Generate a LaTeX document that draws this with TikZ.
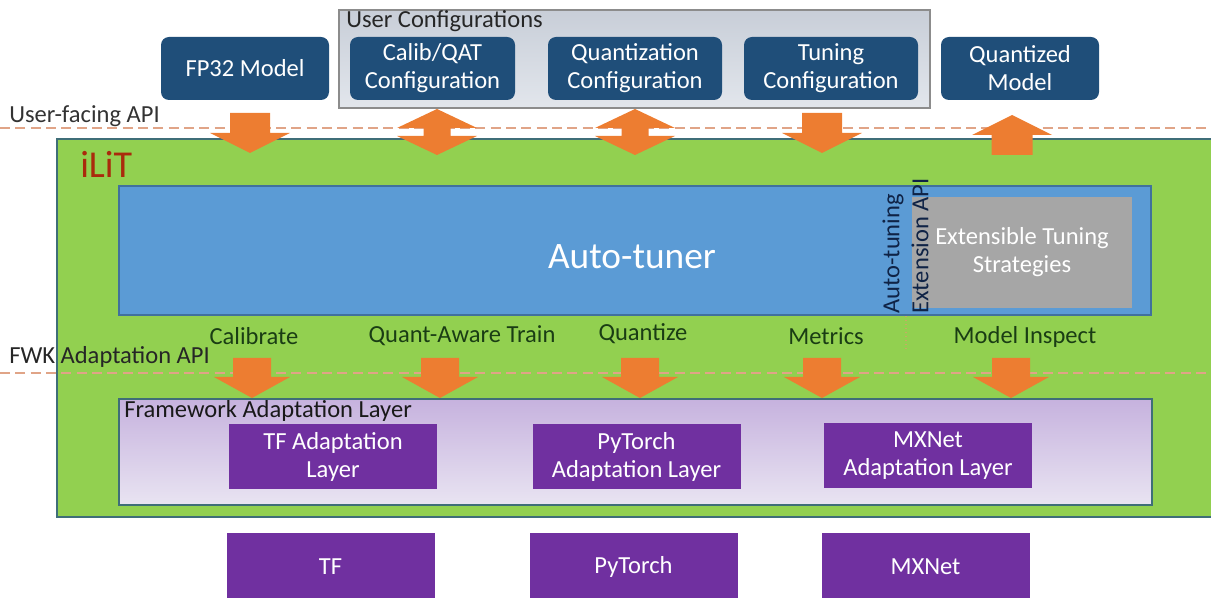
\documentclass[tikz,border=0pt]{standalone}
\usepackage{fontspec}
\setmainfont{Carlito}
\usetikzlibrary{positioning}

\definecolor{navybox}{HTML}{1F4E79}
\definecolor{ilitgreen}{HTML}{92D050}
\definecolor{ilitedge}{HTML}{3F6E78}
\definecolor{tunerblue}{HTML}{5B9BD5}
\definecolor{tuneredge}{HTML}{41719C}
\definecolor{stratgray}{HTML}{A6A6A6}
\definecolor{fwkpurple}{HTML}{7030A0}
\definecolor{arrorange}{HTML}{ED7D31}
\definecolor{apidash}{HTML}{E0A487}
\definecolor{labelgreen}{HTML}{1A3D14}
\definecolor{ilitred}{HTML}{AA2A0C}
\definecolor{cfgtop}{RGB}{200,206,216}
\definecolor{cfgbot}{RGB}{226,230,236}
\definecolor{faltop}{RGB}{198,178,222}
\definecolor{falbot}{RGB}{233,228,242}
\definecolor{extapitext}{RGB}{15,35,70}
\definecolor{dotline}{RGB}{200,170,100}

\begin{document}
\begin{tikzpicture}
  [x=0.75pt,y=-0.75pt,
   every node/.style={font=\fontsize{18.4}{21}\selectfont,inner sep=0pt},
   topbox/.style={rectangle,rounded corners=6pt,fill=navybox,text=white,align=center,minimum height=47.25pt},
   fwkbox/.style={rectangle,fill=fwkpurple,text=white,align=center,minimum width=156pt},
   stagelabel/.style={text=labelgreen},
   apiline/.style={apidash,line width=1.1pt,dash pattern=on 7.5pt off 4pt},
   blockarrow/.style={fill=arrorange}]
  \useasboundingbox (0,0) rectangle (1211,598);

  % user side
  \node[draw=black!45,line width=0.8pt,top color=cfgtop,bottom color=cfgbot,minimum width=443.25pt,minimum height=73.5pt] (ucfg) at (634.5,59) {};
  \node[anchor=base west,text=black!85] (ucfgt) at (346,28) {User Configurations};
  \node[topbox,minimum width=126pt] (fp) at (245,68.5) {FP32 Model};
  \node[topbox,minimum width=123.75pt] (calib) at (432.5,68.5) {Calib/QAT\\Configuration};
  \node[topbox,minimum width=130.5pt] (quant) at (635,68.5) {Quantization\\Configuration};
  \node[topbox,minimum width=130.5pt] (tune) at (831,68.5) {Tuning\\Configuration};
  \node[topbox,minimum width=118.5pt] (qmodel) at (1020,68.5) {Quantized\\Model};

  \node[anchor=base west,text=black!80] (uapi) at (9,123) {User-facing API};
  \draw[apiline] (0,128) -- (1211,128);

  % iLiT
  \node[draw=ilitedge,line width=2.2pt,fill=ilitgreen,minimum width=876pt,minimum height=283.5pt] (ilit) at (641,328) {};
  \node[anchor=base west,text=ilitred,font=\fontsize{28.5}{30}\selectfont] (ilitt) at (80,178) {iLiT};
  \node[draw=tuneredge,line width=1.1pt,fill=tunerblue,minimum width=774pt,minimum height=96.75pt] (tuner) at (635,250.5) {};
  \node[text=white,font=\fontsize{28}{30}\selectfont] (tunert) at (632,257) {Auto-tuner};
  \node[fill=stratgray,text=white,align=center,minimum width=165pt,minimum height=83.25pt] (strat) at (1022,252.5) {Extensible Tuning\\Strategies};
  \node[rotate=90,anchor=west,text=extapitext] (atapi) at (893,314) {Auto-tuning};
  \node[rotate=90,anchor=west,text=extapitext] (extapi) at (920,314) {Extension API};
  \coordinate (du) at (906,316);
  \coordinate (dv) at (906,350);
  \draw[dotline,line width=1pt,dotted] (du) -- (dv);

  \node[stagelabel] (cal) at (254,336) {Calibrate};
  \node[stagelabel] (qat) at (462,336) {Quant-Aware Train};
  \node[stagelabel] (qtz) at (643,334) {Quantize};
  \node[stagelabel] (met) at (826,336) {Metrics};
  \node[stagelabel] (ins) at (1025,337) {Model Inspect};

  \node[anchor=west,text=black!85] (fapi) at (9,357) {FWK Adaptation API};
  \draw[apiline] (0,373) -- (1211,373);

  % framework layer
  \node[draw=ilitedge,line width=1.1pt,top color=faltop,bottom color=falbot,minimum width=774.75pt,minimum height=79.5pt] (fal) at (635.5,452) {};
  \node[anchor=west,text=black!90] (falt) at (124,411) {Framework Adaptation Layer};
  \node[fwkbox,minimum height=48.75pt] (tfa) at (333,457) {TF Adaptation\\Layer};
  \node[fwkbox,minimum height=48.75pt] (pta) at (636.5,457) {PyTorch\\Adaptation Layer};
  \node[fwkbox,minimum height=48.75pt] (mxa) at (928,456) {MXNet\\Adaptation Layer};

  \node[fwkbox,minimum height=50.25pt] (tf) at (330.5,566.5) {TF};
  \node[fwkbox,minimum height=50.25pt] (pt) at (633.5,566.5) {PyTorch};
  \node[fwkbox,minimum height=50.25pt] (mx) at (925.5,566.5) {MXNet};

  % arrows across the APIs
  \foreach \x in {250,822}
    \fill[blockarrow] ({\x-20},113) -- ({\x+20},113) -- ({\x+20},133) -- ({\x+40},133) -- (\x,153) -- ({\x-40},133) -- ({\x-20},133) -- cycle;
  \foreach \x in {437,635}
    \fill[blockarrow] (\x,109) -- ({\x+40},128) -- ({\x+13.5},128) -- ({\x+13.5},136) -- ({\x+40},136) -- (\x,155) -- ({\x-40},136) -- ({\x-13.5},136) -- ({\x-13.5},128) -- ({\x-40},128) -- cycle;
  \foreach \x in {1012}
    \fill[blockarrow] (\x,115) -- ({\x+40},135) -- ({\x+20.5},135) -- ({\x+20.5},155) -- ({\x-20.5},155) -- ({\x-20.5},135) -- ({\x-40},135) -- cycle;
  \foreach \x in {252,440,640,822,1011}
    \fill[blockarrow] ({\x-19},358) -- ({\x+19},358) -- ({\x+19},377) -- ({\x+38},377) -- (\x,398) -- ({\x-38},377) -- ({\x-19},377) -- cycle;

\end{tikzpicture}
\end{document}
